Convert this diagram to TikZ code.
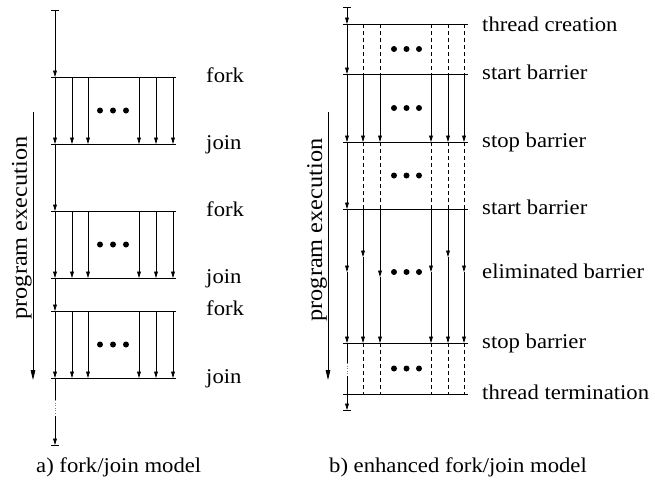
\documentclass[tikz,border=0pt]{standalone}
\usepackage{fontspec}
\setmainfont{Liberation Serif}[FakeStretch=1.08]
\usetikzlibrary{arrows.meta}
\begin{document}
\begin{tikzpicture}[x=1pt,y=-1pt,
  ln/.style={line width=0.8pt},
  arr/.style={ln,-{Triangle[length=6.5pt,width=3.8pt]}},
  bigarr/.style={ln,-{Triangle[length=10pt,width=4.6pt]}},
  dsh/.style={ln,dash pattern=on 4pt off 3pt},
  txt/.style={font=\fontsize{21}{25}\selectfont,inner sep=0pt},
  lbl/.style={txt,anchor=base west},
  vlbl/.style={font=\fontsize{22.5}{26}\selectfont,inner sep=0pt,rotate=90,anchor=base},
  dotmark/.style={circle,fill,inner sep=0pt,minimum size=6pt}]
\useasboundingbox (0,0) rectangle (655,479);

% ---------------- left panel: fork/join model ----------------
\coordinate (Ltop) at (55,10);
\coordinate (Lbot) at (55,445);
\draw[ln] ([xshift=-4pt]Ltop) -- ([xshift=4pt]Ltop);
\draw[arr] (Ltop) -- (55,77);
\foreach \f/\j in {77/144, 211/278, 311/378} {
  \draw[ln] (51,\f) -- (176,\f);
  \draw[ln] (51,\j) -- (176,\j);
  \foreach \x in {55,72,88,139,156,173} { \draw[arr] (\x,\f) -- (\x,\j); }
  \foreach \x in {100,113,126} { \node[dotmark] at (\x,{(\f+\j)/2}) {}; }
}
\draw[arr] (55,144) -- (55,211);
\draw[arr] (55,278) -- (55,311);
\draw[ln] (55,378) -- (55,400);
\draw[line width=0.6pt, dotted, gray] (55,400) -- (55,416);
\draw[arr] (55,416) -- (Lbot);
\draw[ln] ([xshift=-4pt]Lbot) -- ([xshift=4pt]Lbot);

\node[lbl] (f1) at (206,82) {fork};
\node[lbl] (j1) at (206,149) {join};
\node[lbl] (f2) at (206,216) {fork};
\node[lbl] (j2) at (206,283) {join};
\node[lbl] (f3) at (206,315) {fork};
\node[lbl] (j3) at (206,383) {join};

\node[vlbl] (pe1) at (27,228) {program execution};
\coordinate (pe1s) at (33,112);
\coordinate (pe1e) at (33,380);
\draw[bigarr] (pe1s) -- (pe1e);

\node[lbl] (capa) at (36,472) {a) fork/join model};

% ---------------- right panel: enhanced fork/join model ----------------
\coordinate (Rtop) at (347,7);
\coordinate (Rbot) at (347,410);
\draw[ln] ([xshift=-4pt]Rtop) -- ([xshift=4pt]Rtop);
\draw[arr] (Rtop) -- (347,24);
\foreach \y in {24,74,142,209,343,394} { \draw[ln] (343,\y) -- (468,\y); }

% thread creation -> start barrier
\draw[arr] (347,24) -- (347,74);
\foreach \x in {363,380,431,448,464} { \draw[dsh] (\x,24) -- (\x,74); }
% start barrier -> stop barrier
\foreach \x in {347,363,380,431,448,464} { \draw[arr] (\x,74) -- (\x,142); }
% stop barrier -> start barrier
\draw[arr] (347,142) -- (347,209);
\foreach \x in {363,380,431,448,464} { \draw[dsh] (\x,142) -- (\x,209); }
% start barrier -> eliminated barrier -> stop barrier
\foreach \x/\m in {347/272,363/257,380/277,431/272,448/257,464/272} {
  \draw[arr] (\x,209) -- (\x,\m);
  \draw[arr] (\x,\m) -- (\x,343);
}
% stop barrier -> thread termination
\draw[ln] (347,343) -- (347,363);
\draw[line width=0.6pt, dotted, gray] (347,363) -- (347,376);
\draw[ln] (347,376) -- (347,394);
\foreach \x in {363,380,431,448,464} { \draw[dsh] (\x,343) -- (\x,394); }
\draw[arr] (347,394) -- (Rbot);
\draw[ln] ([xshift=-4pt]Rbot) -- ([xshift=4pt]Rbot);

\foreach \y in {49,108,175.5,272,368.5} {
  \foreach \x in {394,406.5,419} { \node[dotmark] at (\x,\y) {}; }
}

\node[lbl] (tc) at (482,31) {thread creation};
\node[lbl] (sb1) at (482,79) {start barrier};
\node[lbl] (pb1) at (482,147) {stop barrier};
\node[lbl] (sb2) at (482,214) {start barrier};
\node[lbl] (eb) at (482,278) {eliminated barrier};
\node[lbl] (pb2) at (482,348) {stop barrier};
\node[lbl] (tt) at (482,399) {thread termination};

\node[vlbl] (pe2) at (322,230) {program execution};
\coordinate (pe2s) at (328,112);
\coordinate (pe2e) at (328,380);
\draw[bigarr] (pe2s) -- (pe2e);

\node[lbl] (capb) at (329,472) {b) enhanced fork/join model};
\end{tikzpicture}
\end{document}
